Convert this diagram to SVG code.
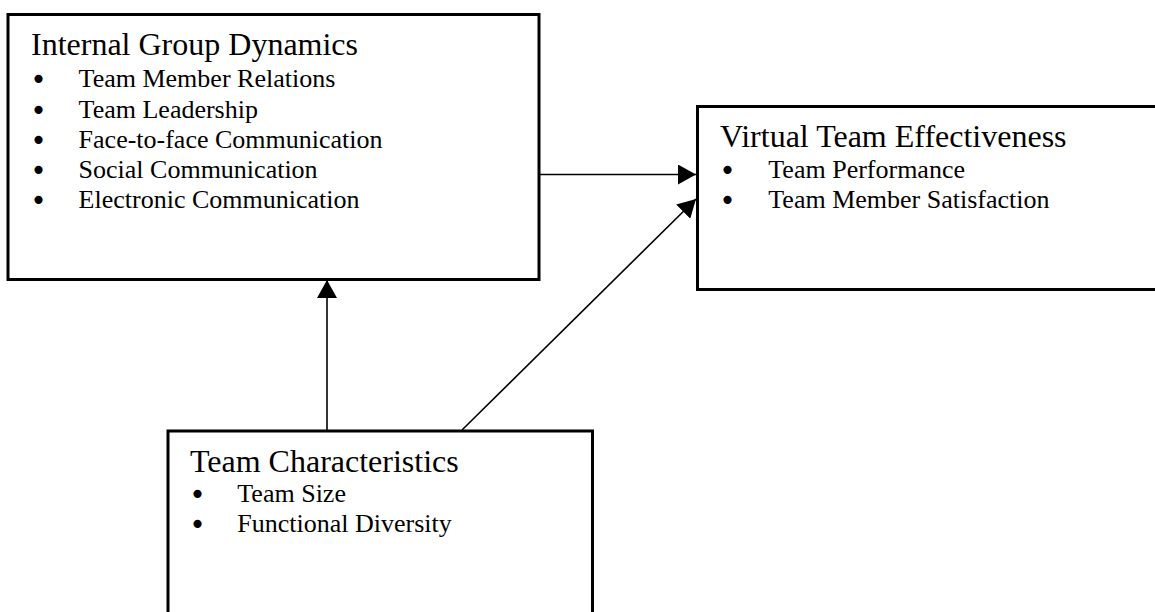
<svg xmlns="http://www.w3.org/2000/svg" width="1155" height="612" viewBox="0 0 1155 612">
  <style>
    .box { fill: #ffffff; stroke: #000000; stroke-width: 3; }
    .title { font-family: "Liberation Serif", "Times New Roman", serif; font-size: 32px; fill: #000; }
    .item { font-family: "Liberation Serif", "Times New Roman", serif; font-size: 26px; fill: #000; }
    .bullet { font-family: "DejaVu Sans", sans-serif; font-size: 28px; text-anchor: middle; }
    .conn { stroke: #000; stroke-width: 1.6; fill: none; marker-end: url(#arrow); }
  </style>
  <defs>
    <marker id="arrow" markerUnits="userSpaceOnUse" viewBox="0 0 18 20" refX="18" refY="10" markerWidth="18" markerHeight="20" orient="auto">
      <path d="M0,0 L18,10 L0,20 Z" fill="#000"/>
    </marker>
  </defs>
  <rect width="1155" height="612" fill="#ffffff"/>

  <g id="connectors">
    <line class="conn" x1="540" y1="174.5" x2="696" y2="174.5"/>
    <line class="conn" x1="327" y1="431" x2="327" y2="280"/>
    <line class="conn" x1="462" y1="430" x2="696" y2="199"/>
  </g>

  <g id="internal-group-dynamics">
    <rect class="box" x="8" y="14.5" width="531" height="265"/>
    <text class="title" x="31" y="55">Internal Group Dynamics</text>
    <text class="item">
      <tspan class="bullet" x="38.5" y="89.3">•</tspan><tspan x="78.6" y="87.3">Team Member Relations</tspan>
      <tspan class="bullet" x="38.5" y="119.5">•</tspan><tspan x="78.6" y="117.5">Team Leadership</tspan>
      <tspan class="bullet" x="38.5" y="149.7">•</tspan><tspan x="78.6" y="147.7">Face-to-face Communication</tspan>
      <tspan class="bullet" x="38.5" y="180">•</tspan><tspan x="78.6" y="178">Social Communication</tspan>
      <tspan class="bullet" x="38.5" y="210.3">•</tspan><tspan x="78.6" y="208.3">Electronic Communication</tspan>
    </text>
  </g>

  <g id="virtual-team-effectiveness">
    <rect class="box" x="697.5" y="106.5" width="500" height="183"/>
    <text class="title" x="720" y="147.3">Virtual Team Effectiveness</text>
    <text class="item">
      <tspan class="bullet" x="727.5" y="180.3">•</tspan><tspan x="768.3" y="178.3">Team Performance</tspan>
      <tspan class="bullet" x="727.5" y="210.3">•</tspan><tspan x="768.3" y="208.3">Team Member Satisfaction</tspan>
    </text>
  </g>

  <g id="team-characteristics">
    <rect class="box" x="168" y="431" width="424.5" height="250"/>
    <text class="title" x="190" y="471.7">Team Characteristics</text>
    <text class="item">
      <tspan class="bullet" x="197.5" y="503.7">•</tspan><tspan x="237.3" y="501.7">Team Size</tspan>
      <tspan class="bullet" x="197.5" y="533.7">•</tspan><tspan x="237.3" y="531.7">Functional Diversity</tspan>
    </text>
  </g>
</svg>
